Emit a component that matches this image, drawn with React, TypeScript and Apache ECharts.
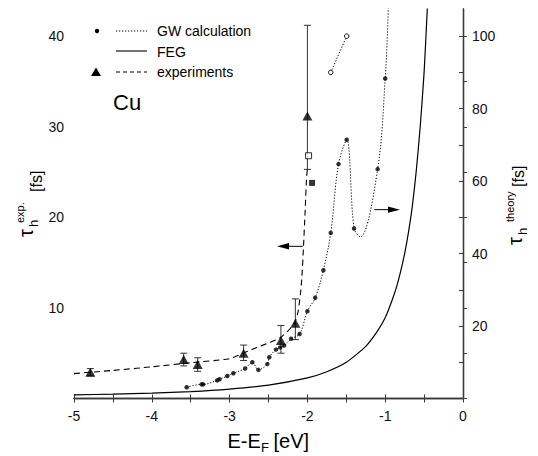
import React, { useEffect, useRef } from 'react';
import * as echarts from 'echarts';

// ---- axis ticks / labels ----
const xTickValues = [-5, -4.5, -4, -3.5, -3, -2.5, -2, -1.5, -1, -0.5, 0];
const xLabelValues = [-5, -4, -3, -2, -1, 0];
const leftTickValues = [0, 5, 10, 15, 20, 25, 30, 35, 40];
const leftLabelValues = [10, 20, 30, 40];
const rightTickValues = [0, 10, 20, 30, 40, 50, 60, 70, 80, 90, 100];
const rightLabelValues = [20, 40, 60, 80, 100];

// ---- GW calculation (right axis, fs) ----
const gwDotE = [-3.552, -3.36, -3.34, -3.16, -3.13, -3.03, -2.952, -2.8, -2.708, -2.63, -2.515, -2.49, -2.404, -2.35, -2.3, -2.21, -2.1, -2.0, -1.9, -1.795, -1.7, -1.6, -1.495, -1.4, -1.097, -1.0];
const gwDotTau = [3.1, 3.9, 3.9, 5.0, 5.3, 6.2, 6.95, 8.3, 10.0, 7.9, 9.5, 11.4, 13.5, 14.1, 14.6, 16.5, 17.8, 24.1, 27.8, 35.4, 45.7, 64.7, 71.4, 46.9, 63.3, 88.3];
const gwCurveE = [-3.552, -3.36, -3.34, -3.16, -3.13, -3.03, -2.952, -2.8, -2.708, -2.63, -2.515, -2.49, -2.404, -2.35, -2.3, -2.21, -2.1, -2.0, -1.9, -1.795, -1.7, -1.6, -1.495, -1.4, -1.32, -1.097, -1.0, -0.96, -0.95];
const gwCurveTau = [3.1, 3.9, 3.9, 5.0, 5.3, 6.2, 6.95, 8.3, 10.0, 7.9, 9.5, 11.4, 13.5, 14.1, 14.6, 16.5, 17.8, 24.1, 27.8, 35.4, 45.7, 64.7, 71.4, 46.9, 44.6, 63.3, 88.3, 107.5, 116];
const gwOpenE = [-1.7, -1.495];
const gwOpenTau = [90, 100];

// ---- FEG (right axis, fs) ----
const fegE = [-5, -4.5, -4, -3.5, -3, -2.5, -2, -1.75, -1.5, -1.25, -1.1, -1.0, -0.95, -0.9, -0.85, -0.8, -0.75, -0.7, -0.65, -0.6, -0.55, -0.5, -0.459, -0.44];
const fegTau = [1.0, 1.2, 1.5, 1.9, 2.6, 3.7, 5.7, 7.4, 10.0, 14.4, 18.6, 22.3, 24.9, 27.8, 31.1, 35.2, 40.0, 46.0, 53.3, 63.0, 75.0, 90.0, 107.5, 116];

// ---- experiments (left axis, fs) ----
const expE = [-4.79, -3.59, -3.41, -2.82, -2.34, -2.155, -2.0];
const expTau = [2.9, 4.3, 3.75, 5.0, 6.4, 8.3, 31.2];
const expLow = [2.5, 3.6, 3.0, 4.2, 5.0, 6.5, 25.3];
const expHigh = [3.3, 5.0, 4.5, 5.9, 8.05, 11.0, 41.2];
const fitE = [-5, -4.5, -4, -3.5, -3, -2.8, -2.63, -2.48, -2.35, -2.245, -2.16, -2.12, -2.09, -2.07, -2.05, -2.03, -2.01, -2.0];
const fitTau = [2.75, 3.1, 3.5, 3.95, 4.4, 5.1, 5.7, 6.2, 6.7, 7.5, 8.4, 9.6, 11.5, 13.5, 16.8, 20.5, 24.5, 25.3];
const openSquare = [-1.985, 26.8];
const filledSquare = [-1.94, 23.8];

// ---- arrows (left axis): [tail E, tip E, tau] ----
const arrowTailE = [-2.06, -1.14];
const arrowTipE = [-2.39, -0.81];
const arrowTau = [16.8, 20.85];

const FONT = '"Liberation Sans", Arial, sans-serif';
const AX = '#3a3a3a';

function txt(x: number, baseline: number, text: string, fs: number, extra: any = {}) {
  return {
    type: 'text',
    x,
    y: baseline - 0.35 * fs,
    silent: true,
    style: { text, fontSize: fs, fontFamily: FONT, fill: '#000', align: 'left', verticalAlign: 'middle', ...extra },
  };
}

export default function App() {
  const ref = useRef<HTMLDivElement>(null);
  useEffect(() => {
    if (!ref.current) return;
    const chart = echarts.init(ref.current, undefined, { renderer: 'svg' });
    const tickCommon = (vals: number[]) => ({
      show: true,
      inside: true,
      length: 4,
      customValues: vals,
      lineStyle: { color: AX, width: 1 },
    });
    const labelCommon = (vals: number[], margin: number, show = true) => ({
      show,
      customValues: vals,
      margin,
      fontSize: 14,
      fontFamily: FONT,
      color: '#111',
      formatter: (v: number) => String(v),
    });
    const axisLine = { show: true, lineStyle: { color: AX, width: 1.3 } };

    const option: any = {
      animation: false,
      grid: { left: 74, right: 75, top: 9, bottom: 57.5, containLabel: false },
      xAxis: [
        { type: 'value', min: -5, max: 0, position: 'bottom', axisLine, axisTick: tickCommon(xTickValues), axisLabel: labelCommon(xLabelValues, 10), splitLine: { show: false } },
        { type: 'value', min: -5, max: 0, position: 'top', axisLine, axisTick: tickCommon(xTickValues), axisLabel: { show: false }, splitLine: { show: false } },
      ],
      yAxis: [
        { type: 'value', min: 0, max: 43, position: 'left', axisLine, axisTick: tickCommon(leftTickValues), axisLabel: labelCommon(leftLabelValues, 10), splitLine: { show: false } },
        { type: 'value', min: 0, max: 107.5, position: 'right', axisLine, axisTick: tickCommon(rightTickValues), axisLabel: labelCommon(rightLabelValues, 9), splitLine: { show: false } },
      ],
      series: [
        {
          type: 'line', name: 'FEG', yAxisIndex: 1, showSymbol: false, smooth: 0.2, clip: true,
          lineStyle: { color: '#000', width: 1.2 },
          data: fegE.map((e, i) => [e, fegTau[i]]),
        },
        {
          type: 'line', name: 'GW curve', yAxisIndex: 1, showSymbol: false, smooth: 0.35, clip: true,
          lineStyle: { color: '#000', width: 1, type: [1.2, 1.8] },
          data: gwCurveE.map((e, i) => [e, gwCurveTau[i]]),
        },
        {
          type: 'scatter', name: 'GW', yAxisIndex: 1, symbol: 'circle', symbolSize: 4.5,
          itemStyle: { color: '#000' },
          data: gwDotE.map((e, i) => [e, gwDotTau[i]]),
        },
        {
          type: 'line', name: 'GW open', yAxisIndex: 1, symbol: 'circle', symbolSize: 4.5,
          itemStyle: { color: '#fff', borderColor: '#000', borderWidth: 1 },
          lineStyle: { color: '#000', width: 1, type: [1.2, 1.8] },
          data: gwOpenE.map((e, i) => [e, gwOpenTau[i]]),
        },
        {
          type: 'line', name: 'fit', yAxisIndex: 0, showSymbol: false, smooth: 0.2,
          lineStyle: { color: '#000', width: 1.1, type: [6, 4] },
          data: fitE.map((e, i) => [e, fitTau[i]]),
        },
        {
          type: 'custom', name: 'errors', yAxisIndex: 0,
          encode: { x: 0, y: [1, 2] },
          data: expE.map((e, i) => [e, expLow[i], expHigh[i]]),
          renderItem: (params: any, api: any) => {
            const x = api.value(0);
            const lo = api.coord([x, api.value(1)]);
            const hi = api.coord([x, api.value(2)]);
            const w = 3.5;
            const st = { stroke: '#333', lineWidth: 1 };
            return {
              type: 'group',
              children: [
                { type: 'line', shape: { x1: lo[0], y1: lo[1], x2: hi[0], y2: hi[1] }, style: st },
                { type: 'line', shape: { x1: hi[0] - w, y1: hi[1], x2: hi[0] + w, y2: hi[1] }, style: st },
                { type: 'line', shape: { x1: lo[0] - w, y1: lo[1], x2: lo[0] + w, y2: lo[1] }, style: st },
              ],
            };
          },
        },
        {
          type: 'scatter', name: 'experiments', yAxisIndex: 0, symbol: 'triangle', symbolSize: [10, 9],
          itemStyle: { color: '#000' },
          data: expE.map((e, i) => [e, expTau[i]]),
        },
        {
          type: 'scatter', name: 'open square', yAxisIndex: 0, symbol: 'rect', symbolSize: 6,
          itemStyle: { color: '#fff', borderColor: '#000', borderWidth: 1 },
          data: [openSquare],
        },
        {
          type: 'scatter', name: 'filled square', yAxisIndex: 0, symbol: 'rect', symbolSize: 6,
          itemStyle: { color: '#000' },
          data: [filledSquare],
        },
        {
          type: 'custom', name: 'arrows', yAxisIndex: 0,
          encode: { x: [0, 1], y: 2 },
          data: arrowTailE.map((e, i) => [e, arrowTipE[i], arrowTau[i]]),
          renderItem: (params: any, api: any) => {
            const t = api.coord([api.value(0), api.value(2)]);
            const p = api.coord([api.value(1), api.value(2)]);
            const dir = p[0] > t[0] ? 1 : -1;
            const hl = 12;
            const hw = 3.2;
            const bx = p[0] - dir * hl;
            return {
              type: 'group',
              children: [
                { type: 'line', shape: { x1: t[0], y1: t[1], x2: bx, y2: p[1] }, style: { stroke: '#000', lineWidth: 1 } },
                { type: 'polygon', shape: { points: [[p[0], p[1]], [bx, p[1] - hw], [bx, p[1] + hw]] }, style: { fill: '#000' } },
              ],
            };
          },
        },
      ],
      graphic: [
        // legend
        { type: 'circle', shape: { cx: 97, cy: 31, r: 2.2 }, style: { fill: '#000' }, silent: true },
        { type: 'line', shape: { x1: 116, y1: 31, x2: 147, y2: 31 }, style: { stroke: '#000', lineWidth: 1, lineDash: [1.2, 1.8] }, silent: true },
        txt(157, 35.5, 'GW calculation', 14),
        { type: 'line', shape: { x1: 116, y1: 51, x2: 147, y2: 51 }, style: { stroke: '#000', lineWidth: 1.1 }, silent: true },
        txt(157, 56.5, 'FEG', 14),
        { type: 'polygon', shape: { points: [[96, 67.5], [101, 76], [91, 76]] }, style: { fill: '#000' }, silent: true },
        { type: 'line', shape: { x1: 116, y1: 72, x2: 147, y2: 72 }, style: { stroke: '#000', lineWidth: 1, lineDash: [4, 3] }, silent: true },
        txt(157, 76.5, 'experiments', 14),
        txt(113, 110, 'Cu', 22),
        // x axis title
        txt(227.4, 448, 'E-E', 20),
        txt(261, 452, 'F', 13),
        txt(273.5, 448, '[eV]', 20),
        // left y title (rotated)
        {
          type: 'group', x: 33, y: 237, rotation: Math.PI / 2, silent: true,
          children: [
            txt(0, 0, 'τ', 20),
            txt(10, 5, 'h', 13),
            txt(14, -9, 'exp.', 11),
            txt(45, 9, '[fs]', 16),
          ],
        },
        // right y title (rotated)
        {
          type: 'group', x: 522, y: 245, rotation: Math.PI / 2, silent: true,
          children: [
            txt(0, 0, 'τ', 20),
            txt(10, 5, 'h', 13),
            txt(23, -8, 'theory', 11),
            txt(58, 2, '[fs]', 16),
          ],
        },
      ],
    };
    chart.setOption(option);
    return () => chart.dispose();
  }, []);
  return <div ref={ref} style={{ position: 'absolute', left: 0, top: 0, width: 538, height: 456, background: '#fff' }} />;
}
